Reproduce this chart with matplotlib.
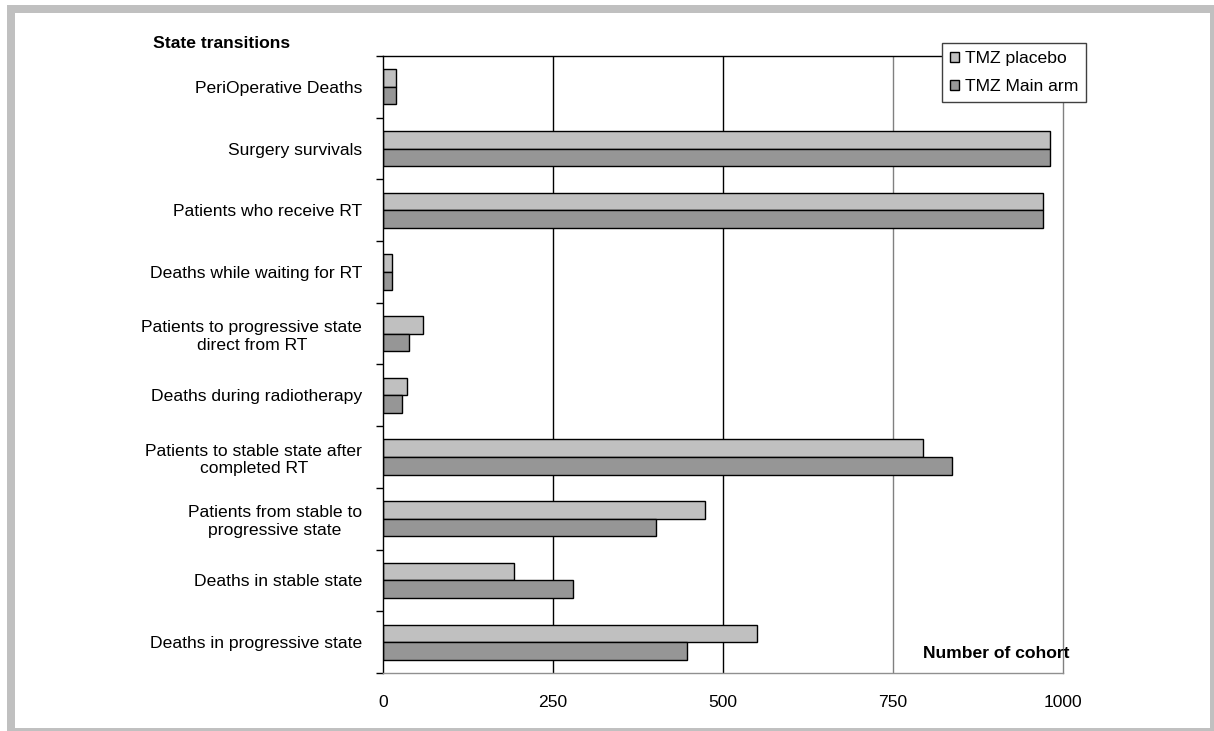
import matplotlib
matplotlib.use("Agg")
import matplotlib.pyplot as plt
from matplotlib.patches import Rectangle, Patch
import numpy as np

# categories from top to bottom
categories = [
    "PeriOperative Deaths",
    "Surgery survivals",
    "Patients who receive RT",
    "Deaths while waiting for RT",
    "Patients to progressive state\ndirect from RT",
    "Deaths during radiotherapy",
    "Patients to stable state after\ncompleted RT",
    "Patients from stable to\nprogressive state",
    "Deaths in stable state",
    "Deaths in progressive state",
]
placebo = [19, 981, 971, 13, 59, 35, 794, 473, 193, 550]
main_arm = [19, 981, 971, 13, 38, 28, 837, 401, 280, 447]
x_ticks = [0, 250, 500, 750, 1000]

plt.rcParams['font.family'] = ['Liberation Sans', 'DejaVu Sans']
fs = 12.6

W, H = 1214, 731
fig = plt.figure(figsize=(W / 100, H / 100), dpi=100)

# grey frame round the chart
fig.patches.append(Rectangle((7 / W, 0), (W - 7) / W, (H - 5) / H, transform=fig.transFigure,
                             facecolor="#c0c0c0", edgecolor="none", zorder=-10))
fig.patches.append(Rectangle((15 / W, 3 / H), (1210 - 15) / W, (728 - 13) / H, transform=fig.transFigure,
                             facecolor="white", edgecolor="none", zorder=-9))

ax = fig.add_axes([383 / W, 1 - 673 / H, (1063 - 383) / W, (673 - 56) / H])
ax.patch.set_alpha(0)

n = len(categories)
y = np.arange(n)
bw = 0.286
ax.barh(y - bw / 2, placebo, height=bw, color="#c0c0c0", edgecolor="black", linewidth=1.0,
        label="TMZ placebo", zorder=3)
ax.barh(y + bw / 2, main_arm, height=bw, color="#969696", edgecolor="black", linewidth=1.0,
        label="TMZ Main arm", zorder=3)

ax.set_ylim(n - 0.5, -0.5)
ax.set_xlim(0, 1000)

# ticks between the categories, labels at their centres
ax.set_yticks(np.arange(n + 1) - 0.5)
ax.set_yticklabels([])
ax.set_yticks(y, minor=True)
ax.set_yticklabels(categories, minor=True, fontsize=fs, multialignment="center")
ax.tick_params(axis="y", which="major", length=5, width=1, direction="out", color="black")
ax.tick_params(axis="y", which="minor", length=0, pad=15)

ax.set_xticks(x_ticks)
ax.set_xticklabels([str(v) for v in x_ticks], fontsize=fs)
ax.tick_params(axis="x", length=0, pad=16)

# gridlines
for v, c in zip(x_ticks[1:-1], ["black", "black", "#808080"]):
    ax.axvline(v, color=c, linewidth=1.0, zorder=1)

ax.spines["top"].set_color("black")
ax.spines["left"].set_color("black")
ax.spines["right"].set_color("#808080")
ax.spines["bottom"].set_color("#909090")
for s in ax.spines.values():
    s.set_linewidth(1.0)
    s.set_zorder(4)

fig.text(153 / W, 1 - 44 / H, "State transitions", fontsize=fs, fontweight="bold", va="center", ha="left")
fig.text(923 / W, 1 - 653 / H, "Number of cohort", fontsize=fs, fontweight="bold", va="center", ha="left", zorder=5)

handles = [Patch(facecolor="#c0c0c0", edgecolor="black", linewidth=1.0),
           Patch(facecolor="#969696", edgecolor="black", linewidth=1.0)]
leg = fig.legend(handles, ["TMZ placebo", "TMZ Main arm"], loc="upper left",
                 bbox_to_anchor=(942 / W, 1 - 43 / H), bbox_transform=fig.transFigure,
                 fontsize=fs, frameon=True, fancybox=False, framealpha=1, edgecolor="#404040",
                 handlelength=0.5, handleheight=0.5, handletextpad=0.35, borderpad=0.45,
                 labelspacing=0.75, borderaxespad=0)
leg.get_frame().set_linewidth(1.0)

fig.savefig("out.png", dpi=100)
